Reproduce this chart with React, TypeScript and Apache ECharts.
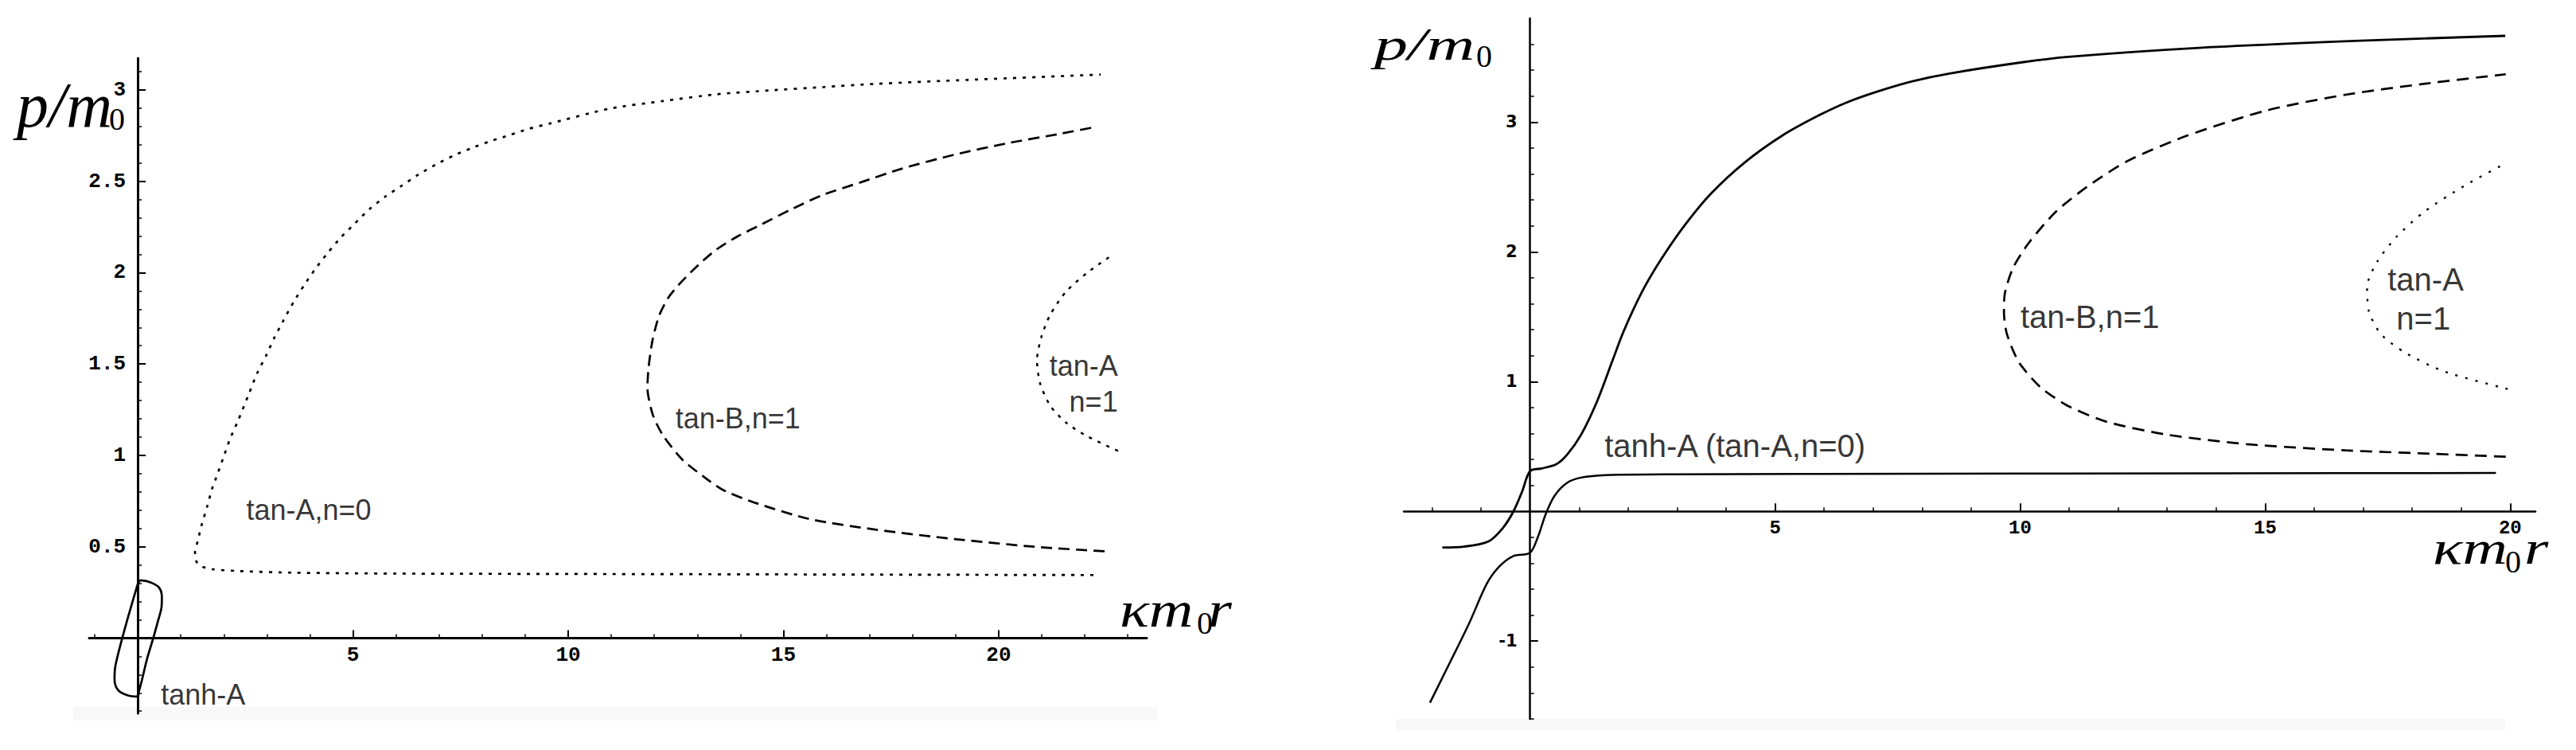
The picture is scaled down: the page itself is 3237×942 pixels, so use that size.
import React, { useEffect, useRef } from 'react';
import * as echarts from 'echarts';

type P = [number, number];

// ---------- Left panel (p/m0 vs kappa m0 r) ----------
const leftTanA0: P[] = [
  [22.2, 0.345], [18, 0.347], [14, 0.349], [10, 0.351], [6, 0.353], [3.6, 0.358], [2.35, 0.367],
  [1.73, 0.377], [1.45, 0.395], [1.36, 0.42], [1.33, 0.471], [1.39, 0.529], [1.48, 0.616],
  [1.61, 0.718], [1.73, 0.82], [1.82, 0.877], [1.98, 0.982], [2.14, 1.088], [2.33, 1.19],
  [2.59, 1.342], [2.77, 1.448], [2.98, 1.545], [3.18, 1.647], [3.39, 1.741], [3.62, 1.839],
  [3.87, 1.933], [4.13, 2.022], [4.41, 2.107], [4.72, 2.193], [5.05, 2.271], [5.38, 2.347],
  [5.75, 2.416], [6.14, 2.477], [6.52, 2.537], [6.92, 2.591], [7.35, 2.642], [7.79, 2.685],
  [8.21, 2.721], [8.64, 2.753], [9.08, 2.787], [9.57, 2.816], [10.97, 2.898], [12.2, 2.939],
  [13.44, 2.976], [14.67, 2.997], [15.9, 3.015], [17.13, 3.033], [19.29, 3.055], [22.37, 3.084],
];
const leftTanB1: P[] = [
  [22.46, 0.475], [20.83, 0.5], [18.98, 0.542], [17.13, 0.594], [15.6, 0.652], [14.31, 0.743],
  [13.6, 0.81], [13.2, 0.874], [12.66, 0.975], [12.2, 1.11], [11.96, 1.226], [11.84, 1.371],
  [11.87, 1.487], [11.96, 1.632], [12.11, 1.763], [12.33, 1.865], [12.64, 1.952], [13.01, 2.039],
  [13.44, 2.126], [13.93, 2.198], [14.49, 2.264], [15.16, 2.344], [15.9, 2.424], [16.83, 2.497],
  [17.75, 2.569], [18.98, 2.646], [20.22, 2.709], [21.45, 2.761], [22.22, 2.796],
];
const leftTanA1: P[] = [
  [22.56, 2.084], [22.06, 2.0], [21.57, 1.897], [21.2, 1.771], [20.99, 1.646], [20.89, 1.521],
  [20.96, 1.396], [21.2, 1.271], [21.57, 1.178], [22.06, 1.104], [22.9, 1.011],
];
const leftTanhA: P[] = [
  [0.0, 0.297], [0.07, 0.316], [0.31, 0.304], [0.5, 0.275], [0.56, 0.224], [0.55, 0.166],
  [0.47, 0.094], [0.36, 0.0], [0.22, -0.11], [0.1, -0.226], [0.02, -0.298], [0.0, -0.32],
  [-0.24, -0.313], [-0.46, -0.284], [-0.54, -0.226], [-0.52, -0.153], [-0.36, 0.0],
  [-0.18, 0.152], [0.0, 0.297],
];

// ---------- Right panel ----------
const rightUpper: P[] = [
  [-1.79, -0.278], [-1.354, -0.272], [-0.848, -0.231], [-0.557, -0.129], [-0.339, 0.0],
  [-0.158, 0.157], [0.0, 0.311], [0.24, 0.331], [0.53, 0.362], [0.748, 0.433], [1.04, 0.59],
  [1.37, 0.85], [1.69, 1.17], [1.905, 1.384], [2.283, 1.691], [2.663, 1.936], [3.15, 2.202],
  [3.69, 2.448], [4.394, 2.693], [5.153, 2.898], [5.856, 3.045], [6.45, 3.15], [7.08, 3.235],
  [7.8, 3.315], [8.56, 3.375], [10.04, 3.461], [10.99, 3.503], [13.65, 3.572], [16.94, 3.627],
  [19.9, 3.665],
];
const rightLower: P[] = [
  [-2.043, -1.475], [-1.645, -1.172], [-1.246, -0.865], [-0.883, -0.558], [-0.63, -0.426],
  [-0.339, -0.344], [0.0, -0.319], [0.167, -0.19], [0.313, -0.027], [0.494, 0.117],
  [0.748, 0.218], [1.038, 0.26], [1.546, 0.28], [2.995, 0.286], [8, 0.29], [14, 0.293],
  [19.71, 0.296],
];
const rightTanB1: P[] = [
  [19.91, 0.421], [18.26, 0.446], [16.64, 0.47], [14.62, 0.518], [13.0, 0.591], [11.79, 0.688],
  [10.99, 0.81], [10.42, 0.955], [9.976, 1.149], [9.73, 1.367], [9.67, 1.537], [9.69, 1.683],
  [9.856, 1.877], [10.18, 2.071], [10.74, 2.313], [11.39, 2.508], [12.2, 2.702], [13.41, 2.896],
  [15.03, 3.09], [16.64, 3.211], [18.26, 3.296], [19.91, 3.369],
];
const rightTanA1: P[] = [
  [19.95, 0.943], [18.66, 1.077], [17.86, 1.222], [17.36, 1.367], [17.12, 1.537], [17.08, 1.731],
  [17.29, 1.926], [17.69, 2.12], [18.26, 2.313], [19.06, 2.508], [19.91, 2.683],
];

// ---------- Ticks ----------
const leftXMajor = [5, 10, 15, 20];
const leftXMinor = [-1, 1, 2, 3, 4, 6, 7, 8, 9, 11, 12, 13, 14, 16, 17, 18, 19, 21, 22, 23];
const leftYMajor = [0.5, 1, 1.5, 2, 2.5, 3];
const leftYMinor = [-0.4, -0.3, -0.2, -0.1, 0.1, 0.2, 0.3, 0.4, 0.6, 0.7, 0.8, 0.9, 1.1, 1.2, 1.3,
  1.4, 1.6, 1.7, 1.8, 1.9, 2.1, 2.2, 2.3, 2.4, 2.6, 2.7, 2.8, 2.9, 3.1];
const rightXMajor = [5, 10, 15, 20];
const rightXMinor = [-2, -1, 1, 2, 3, 4, 6, 7, 8, 9, 11, 12, 13, 14, 16, 17, 18, 19];
const rightYMajor = [-1, 1, 2, 3];
const rightYMinor = [-1.6, -1.4, -1.2, -0.8, -0.6, -0.4, -0.2, 0.2, 0.4, 0.6, 0.8, 1.2, 1.4, 1.6,
  1.8, 2.2, 2.4, 2.6, 2.8, 3.2, 3.4, 3.6];

// ---------- Annotations ----------
const leftLabels = [
  { text: 'tan-A,n=0', x: 2.51, y: 0.703 },
  { text: 'tan-B,n=1', x: 12.48, y: 1.202 },
  { text: 'tan-A', x: 21.17, y: 1.49 },
  { text: 'n=1', x: 21.63, y: 1.292 },
  { text: 'tanh-A', x: 0.53, y: -0.309 },
];
const rightLabels = [
  { text: 'tanh-A (tan-A,n=0)', x: 1.51, y: 0.505 },
  { text: 'tan-B,n=1', x: 10.0, y: 1.501 },
  { text: 'tan-A', x: 17.49, y: 1.787 },
  { text: 'n=1', x: 17.67, y: 1.487 },
];

const BLACK = '#000';

function majorAxis(gridIndex: number, min: number, max: number, ticks: number[], font: any, lw: number, margin: number, showLabel = true) {
  return {
    gridIndex, type: 'value', min, max, offset: 0,
    axisLine: { show: true, onZero: false, lineStyle: { color: BLACK, width: lw } },
    splitLine: { show: false },
    axisTick: { show: true, inside: true, length: 10, customValues: ticks, lineStyle: { color: BLACK, width: 2 } },
    axisLabel: { show: showLabel, customValues: ticks, color: BLACK, margin, ...font },
  };
}
function minorAxis(gridIndex: number, min: number, max: number, ticks: number[]) {
  return {
    gridIndex, type: 'value', min, max, offset: 0,
    axisLine: { show: false, onZero: false },
    splitLine: { show: false },
    axisTick: { show: true, inside: true, length: 5, customValues: ticks, lineStyle: { color: BLACK, width: 1.5 } },
    axisLabel: { show: false },
  };
}

function curve(ax: number, data: P[], width: number, type: any, smooth = 0.25) {
  return {
    type: 'line', xAxisIndex: ax, yAxisIndex: ax, data, symbol: 'none', showSymbol: false,
    smooth, clip: false, silent: true,
    lineStyle: { color: BLACK, width, type },
  };
}
function labels(ax: number, items: { text: string; x: number; y: number }[], fontSize: number) {
  return {
    type: 'scatter', xAxisIndex: ax, yAxisIndex: ax, symbolSize: 1, silent: true,
    itemStyle: { color: 'transparent' },
    data: items.map((l) => ({ value: [l.x, l.y], label: { formatter: l.text } })),
    label: { show: true, position: 'right', distance: 0, color: BLACK, fontFamily: 'Liberation Sans', fontSize },
  };
}

function titleText(x: number, y: number, text: string, fontSize: number, italic: boolean, scaleX = 1) {
  return {
    type: 'text', x, y, scaleX, silent: true,
    style: {
      text, fill: BLACK, fontSize, fontFamily: 'Liberation Serif',
      fontStyle: italic ? 'italic' : 'normal', verticalAlign: 'middle', align: 'left',
    },
  };
}

export default function App() {
  const ref = useRef<HTMLDivElement>(null);
  useEffect(() => {
    if (!ref.current) return;
    const chart = echarts.init(ref.current, undefined, { renderer: 'svg' });
    const monoL = { fontFamily: 'Liberation Mono', fontSize: 26, fontWeight: 'bold' };
    const monoR = { fontFamily: 'Liberation Mono', fontSize: 24, fontWeight: 'bold' };
    const sansR = { fontFamily: 'DejaVu Sans', fontSize: 21, fontWeight: 'bold' };
    const LG = { left: 112, top: 73, width: 1329, height: 823 };
    const RG = { left: 1764, top: 23, width: 1422, height: 880 };
    const L = { xmin: -1.13, xmax: 23.44, ymin: -0.412, ymax: 3.174 };
    const R = { xmin: -2.577, xmax: 20.515, ymin: -1.6, ymax: 3.8 };
    const titles = [
      titleText(21, 132, 'p/m', 80, true, 1.0),
      titleText(137, 149, '0', 40, false),
      titleText(1407, 765, 'κm', 64, true, 1.2),
      titleText(1504, 782, '0', 40, false),
      titleText(1518, 765, 'r', 64, true, 1.2),
      titleText(1727, 56, 'p/m', 58, true, 1.45),
      titleText(1855, 70, '0', 40, false),
      titleText(3057, 688, 'κm', 60, true, 1.3),
      titleText(3148, 705, '0', 40, false),
      titleText(3172, 688, 'r', 60, true, 1.3),
    ];
    const bands = [
      { type: 'rect', silent: true, z: -10, shape: { x: 92, y: 888, width: 1363, height: 17 }, style: { fill: '#f8f8f8' } },
      { type: 'rect', silent: true, z: -10, shape: { x: 1754, y: 903, width: 1394, height: 14 }, style: { fill: '#f8f8f8' } },
    ];
    chart.setOption({
      animation: false,
      backgroundColor: '#ffffff',
      grid: [LG, LG, RG, RG].map((g) => ({ ...g, containLabel: false })),
      xAxis: [
        majorAxis(0, L.xmin, L.xmax, leftXMajor, monoL, 3, 9),
        minorAxis(1, L.xmin, L.xmax, leftXMinor),
        majorAxis(2, R.xmin, R.xmax, rightXMajor, monoR, 2.5, 9),
        minorAxis(3, R.xmin, R.xmax, rightXMinor),
      ],
      yAxis: [
        majorAxis(0, L.ymin, L.ymax, leftYMajor, monoL, 3, 14, false),
        minorAxis(1, L.ymin, L.ymax, leftYMinor),
        majorAxis(2, R.ymin, R.ymax, rightYMajor, sansR, 2.5, 16),
        minorAxis(3, R.ymin, R.ymax, rightYMinor),
      ],
      series: [
        curve(0, leftTanA0, 2.7, [4, 8]),
        curve(0, leftTanB1, 2.7, [14, 8]),
        curve(0, leftTanA1, 2.5, [4, 8]),
        curve(0, leftTanhA, 2.7, 'solid', 0.3),
        curve(2, rightUpper, 2.8, 'solid', 0.3),
        curve(2, rightLower, 2.5, 'solid', 0.3),
        curve(2, rightTanB1, 2.7, [15, 9]),
        curve(2, rightTanA1, 2.4, [3, 10]),
        labels(0, leftLabels, 36),
        labels(2, rightLabels, 40),
      ],
      graphic: [...bands, ...titles],
    });

    // Move each axis so that it crosses the other at zero (offset derived from the axis scales).
    const crossAt = (axisIndex: number, g: { left: number; top: number; height: number }) => {
      const x0 = chart.convertToPixel({ xAxisIndex: axisIndex }, 0) as number;
      const y0 = chart.convertToPixel({ yAxisIndex: axisIndex }, 0) as number;
      return { x0, y0, yOff: -(x0 - g.left), xOff: -(g.top + g.height - y0) };
    };
    const l = crossAt(0, LG);
    const r = crossAt(2, RG);
    // Left vertical tick labels, placed through the axis scale next to the moved axis.
    const leftYLabels = leftYMajor.map((v) => ({
      type: 'text', silent: true,
      x: l.x0 - 15,
      y: chart.convertToPixel({ yAxisIndex: 0 }, v) as number,
      style: { text: String(v), fill: BLACK, align: 'right', verticalAlign: 'middle', ...monoL },
    }));
    chart.setOption({
      xAxis: [{ offset: l.xOff }, { offset: l.xOff }, { offset: r.xOff }, { offset: r.xOff }],
      yAxis: [{ offset: l.yOff }, { offset: l.yOff }, { offset: r.yOff }, { offset: r.yOff }],
      graphic: [...bands, ...titles, ...leftYLabels],
    });
    return () => chart.dispose();
  }, []);
  return <div ref={ref} style={{ position: 'absolute', left: 0, top: 0, width: 3237, height: 942 }} />;
}
